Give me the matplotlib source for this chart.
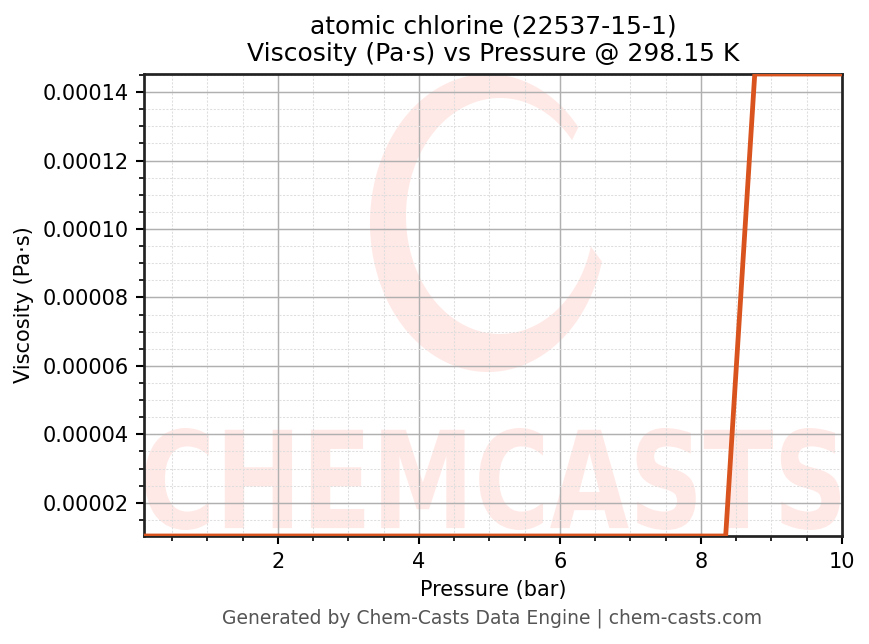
import numpy as np
import matplotlib
matplotlib.use("Agg")
import matplotlib.pyplot as plt
from matplotlib.patches import Polygon, PathPatch
from matplotlib.textpath import TextPath
from matplotlib.font_manager import FontProperties
from matplotlib.transforms import Affine2D
from matplotlib.ticker import MultipleLocator

# Data
pressure_bar = [0.1, 0.5125, 0.925, 1.3375, 1.75, 2.1625, 2.575, 2.9875, 3.4,
                3.8125, 4.225, 4.6375, 5.05, 5.4625, 5.875, 6.2875, 6.7,
                7.1125, 7.525, 7.9375, 8.35, 8.7625, 9.175, 9.5875, 10.0]
viscosity = [1.03e-5] * 21 + [1.453e-4] * 4

title = "atomic chlorine (22537-15-1)\nViscosity (Pa·s) vs Pressure @ 298.15 K"
footer = "Generated by Chem-Casts Data Engine | chem-casts.com"

W, H, DPI = 869, 644, 150
fig = plt.figure(figsize=(W / DPI, H / DPI), dpi=DPI)
ax = fig.add_axes([144 / W, 1 - 536 / H, (842 - 144) / W, (536 - 74) / H])

wm_color = "#ffe9e6"

# watermark: swirl logo (approximated as an open elliptical ring)
def fx(px):
    return px / W

def fy(py):
    return 1 - py / H

t = np.radians(np.linspace(40, 345, 200))
outer = [(fx(488 + 118 * np.cos(a)), fy(223 - 149 * np.sin(a))) for a in t]
inner = [(fx(500 + 94 * np.cos(a)), fy(216 - 118 * np.sin(a))) for a in t[::-1]]
ring = Polygon(outer + inner, closed=True, transform=fig.transFigure,
               facecolor=wm_color, edgecolor="none", zorder=0)
ax.add_artist(ring)

# watermark: CHEMCASTS text stretched into its box
tp = TextPath((0, 0), "CHEMCASTS", size=1,
              prop=FontProperties(family="DejaVu Sans", weight="bold"))
ext = tp.get_extents()
bx0, bx1, by0, by1 = 145, 840, 428, 530
sx = (fx(bx1) - fx(bx0)) / ext.width
sy = (fy(by0) - fy(by1)) / ext.height
tr = Affine2D().translate(-ext.x0, -ext.y0).scale(sx, sy).translate(fx(bx0), fy(by1))
ax.add_artist(PathPatch(tp, transform=tr + fig.transFigure,
                        facecolor=wm_color, edgecolor="none", zorder=0))

ax.plot(pressure_bar, viscosity, color="#d9531e", linewidth=2.3, zorder=3)

ax.set_xlim(0.1, 10)
ax.set_ylim(min(viscosity), max(viscosity))
ax.xaxis.set_major_locator(MultipleLocator(2))
ax.xaxis.set_minor_locator(MultipleLocator(0.5))
ax.yaxis.set_major_locator(MultipleLocator(2e-5))
ax.yaxis.set_minor_locator(MultipleLocator(5e-6))
ax.yaxis.set_major_formatter(plt.FuncFormatter(lambda v, p: f"{v:.5f}"))

ax.set_axisbelow(True)
ax.grid(True, which="major", color="#b0b0b0", linewidth=0.7)
ax.grid(True, which="minor", color="#dedede", linestyle=(0, (2, 1.5)), linewidth=0.5)

for s in ax.spines.values():
    s.set_linewidth(1.3)
    s.set_color("#222222")
ax.tick_params(which="major", length=4, width=1, labelsize=10)
ax.tick_params(which="minor", length=2.5, width=0.8)

ax.set_xlabel("Pressure (bar)", fontsize=10)
ax.set_ylabel("Viscosity (Pa·s)", fontsize=10)
ax.set_title(title, fontsize=12)

fig.text(fx(492), fy(618), footer, ha="center", va="center",
         fontsize=9, color="#555555")

fig.savefig("out.png", dpi=DPI)
